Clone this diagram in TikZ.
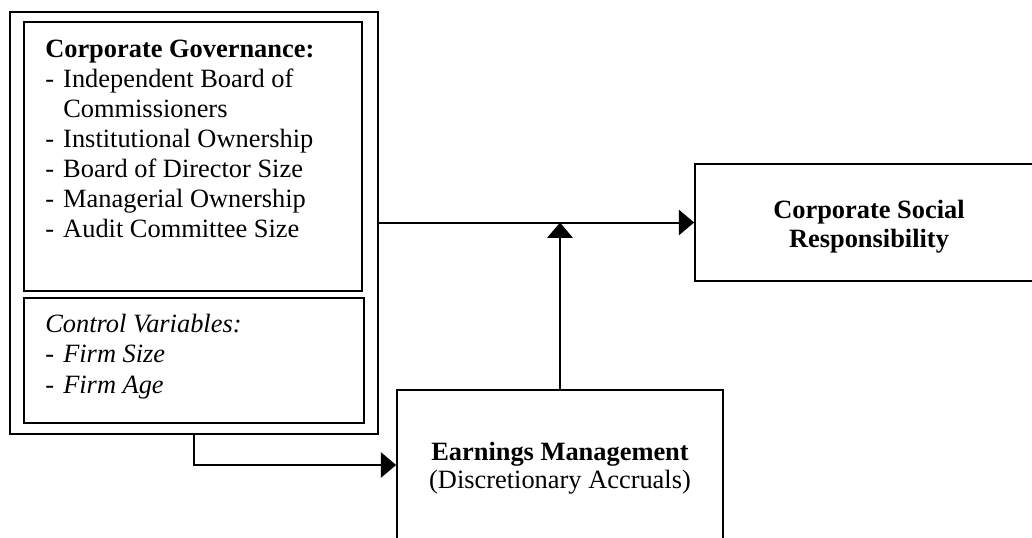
\documentclass[tikz,border=0pt]{standalone}
\usepackage{fontspec}
\setmainfont{Liberation Serif}
\usetikzlibrary{arrows.meta,fit}
\newcommand{\fsz}{\fontsize{19.8pt}{22.5pt}\selectfont}
\newcommand{\dsh}{\makebox[13.5pt][l]{-}}
\begin{document}
\begin{tikzpicture}[x=0.75pt,y=-0.75pt,
  frame/.style={draw, line width=1.3pt, inner sep=0pt},
  subframe/.style={draw, line width=1pt, inner sep=0pt},
  txt/.style={inner sep=0pt, anchor=base west, font=\fsz},
  ctxt/.style={inner sep=0pt, anchor=base, font=\fsz},
  arr/.style={-{Triangle[length=11.5pt,width=19pt]}, line width=1.5pt}]
\useasboundingbox (0,0) rectangle (1032,537);
\clip (0,0) rectangle (1032,537);
% boxes
\node[frame, fit={(10,12)(378,434)}] (outer) {};
\node[subframe, fit={(24,22)(362,291)}] (cgbox) {};
\node[subframe, fit={(24,298)(364,423)}] (cvbox) {};
\node[frame, fit={(695,164)(1043,281)}] (csr) {};
\node[frame, fit={(397,390)(723,600)}] (em) {};
% governance text
\node[txt] (cg1) at (45,57) {\bfseries Corporate Governance:};
\node[txt] (cg2) at (45,87) {\dsh Independent Board of};
\node[txt] (cg3) at (45,117) {\hspace*{13.5pt}Commissioners};
\node[txt] (cg4) at (45,147) {\dsh Institutional Ownership};
\node[txt] (cg5) at (45,177) {\dsh Board of Director Size};
\node[txt] (cg6) at (45,207) {\dsh Managerial Ownership};
\node[txt] (cg7) at (45,237) {\dsh Audit Committee Size};
% control variables
\node[txt] (cv1) at (45,332) {\itshape Control Variables:};
\node[txt] (cv2) at (45,362) {\dsh\itshape Firm Size};
\node[txt] (cv3) at (45,393) {\dsh\itshape Firm Age};
% CSR text
\node[ctxt] (csr1) at (869,218) {\bfseries Corporate Social};
\node[ctxt] (csr2) at (869,247) {\bfseries Responsibility};
% EM text
\node[ctxt] (em1) at (560,460) {\bfseries Earnings Management};
\node[ctxt] (em2) at (560,488) {(Discretionary Accruals)};
% connectors
\coordinate (bend) at (194,465);
\draw[arr] (outer.east |- csr.west) -- (csr.west);
\draw[arr] (em.north) -- (em.north |- csr.west);
\draw[arr] (outer.south) -- (bend) -- (bend -| em.west);
\end{tikzpicture}
\end{document}
